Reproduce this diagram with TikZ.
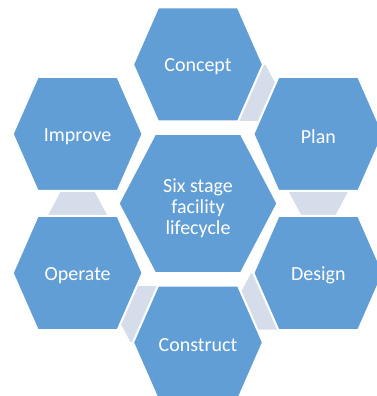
\documentclass[tikz,border=0pt]{standalone}
\usepackage{fontspec}
\setmainfont{Carlito}
\usetikzlibrary{calc}
\definecolor{hexblue}{RGB}{98,158,214}
\definecolor{linkgray}{RGB}{213,221,234}
\tikzset{
	hexa/.style={fill=hexblue, draw=white, line width=2pt},
	link/.style={fill=linkgray},
	stage/.style={text=white, font=\fontsize{20}{21}\selectfont, align=center, yshift=-2.5pt}
}

\begin{document}
\begin{tikzpicture}[x=1pt,y=1pt]
	\useasboundingbox (-198,-192.5) rectangle (178,203.5);
	\coordinate (hub) at (0,0);
	\coordinate (concept) at (90:139);
	\coordinate (plan) at (30:139);
	\coordinate (design) at (-30:139);
	\coordinate (construct) at (-90:139);
	\coordinate (operate) at (-150:139);
	\coordinate (improve) at (150:139);
	% links between the stages
	\fill[link] ($(concept)+(52.5,-28.5)$) +(-30,0) -- +(-15,28) -- +(15,28) -- +(30,0) -- +(15,-28) -- +(-15,-28) -- cycle;
	\fill[link] ($(plan)+(0,-57)$) +(-30,0) -- +(-15,28) -- +(15,28) -- +(30,0) -- +(15,-28) -- +(-15,-28) -- cycle;
	\fill[link] ($(design)+(-52.5,-28.5)$) +(-30,0) -- +(-15,28) -- +(15,28) -- +(30,0) -- +(15,-28) -- +(-15,-28) -- cycle;
	\fill[link] ($(construct)+(-52.5,28.5)$) +(-30,0) -- +(-15,28) -- +(15,28) -- +(30,0) -- +(15,-28) -- +(-15,-28) -- cycle;
	\fill[link] ($(operate)+(0,57)$) +(-30,0) -- +(-15,28) -- +(15,28) -- +(30,0) -- +(15,-28) -- +(-15,-28) -- cycle;
	% hexagons
	\draw[hexa] (hub) +(-79.5,0) -- +(-43,69.5) -- +(43,69.5) -- +(79.5,0) -- +(43,-69.5) -- +(-43,-69.5) -- cycle;
	\draw[hexa] (concept) +(-65,0) -- +(-40,57) -- +(40,57) -- +(65,0) -- +(40,-57) -- +(-40,-57) -- cycle;
	\draw[hexa] (plan) +(-65,0) -- +(-40,57) -- +(40,57) -- +(65,0) -- +(40,-57) -- +(-40,-57) -- cycle;
	\draw[hexa] (design) +(-65,0) -- +(-40,57) -- +(40,57) -- +(65,0) -- +(40,-57) -- +(-40,-57) -- cycle;
	\draw[hexa] (construct) +(-65,0) -- +(-40,57) -- +(40,57) -- +(65,0) -- +(40,-57) -- +(-40,-57) -- cycle;
	\draw[hexa] (operate) +(-65,0) -- +(-40,57) -- +(40,57) -- +(65,0) -- +(40,-57) -- +(-40,-57) -- cycle;
	\draw[hexa] (improve) +(-65,0) -- +(-40,57) -- +(40,57) -- +(65,0) -- +(40,-57) -- +(-40,-57) -- cycle;
	% labels
	\node[stage, yshift=-2.5pt] (hubtext) at (hub) {Six stage\\facility\\lifecycle};
	\node[stage] (concepttext) at (concept) {Concept};
	\node[stage] (plantext) at (plan) {Plan};
	\node[stage] (designtext) at (design) {Design};
	\node[stage] (constructtext) at (construct) {Construct};
	\node[stage] (operatetext) at (operate) {Operate};
	\node[stage] (improvetext) at (improve) {Improve};
\end{tikzpicture}
\end{document}
